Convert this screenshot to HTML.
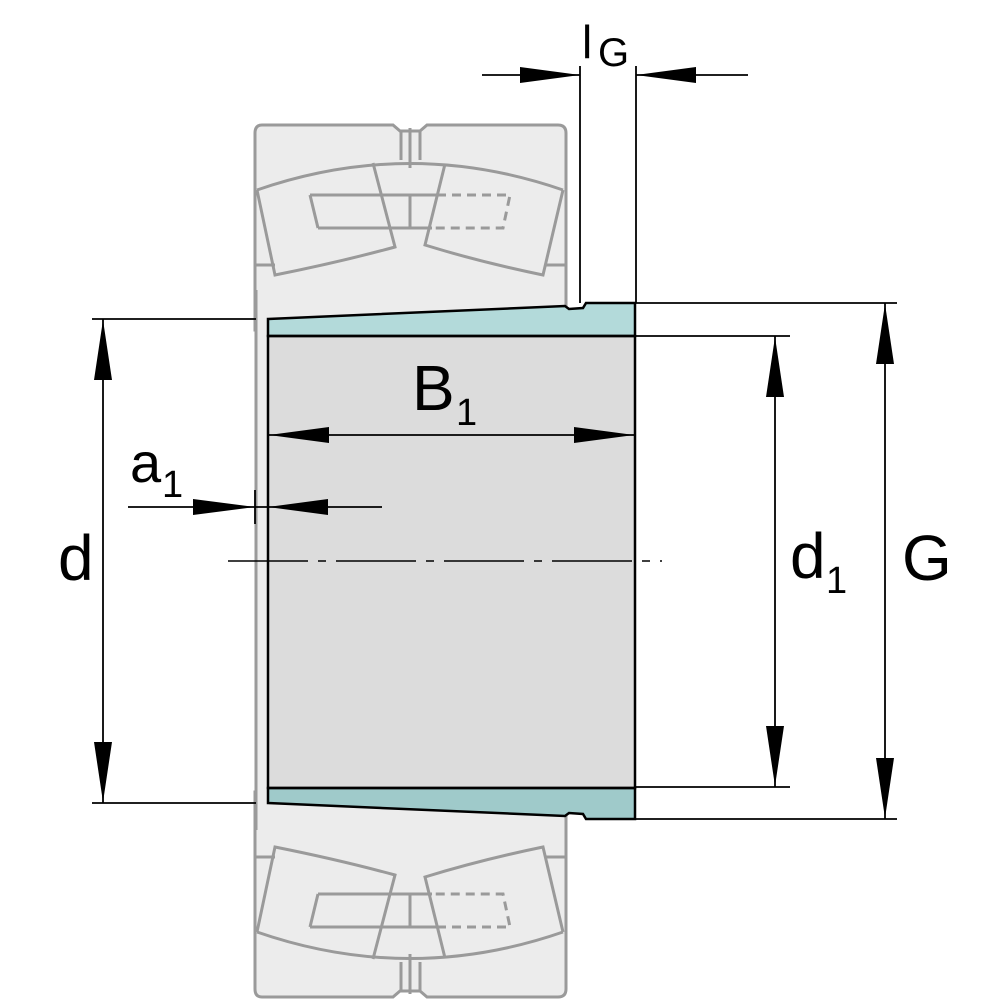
<!DOCTYPE html>
<html><head><meta charset="utf-8"><style>html,body{margin:0;padding:0;background:#fff}svg{display:block}</style></head>
<body>
<svg width="1000" height="1000" viewBox="0 0 1000 1000" xmlns="http://www.w3.org/2000/svg" font-family="Liberation Sans, DejaVu Sans, sans-serif">
<defs>
<g id="brg" fill="none" stroke="#9a9a9a" stroke-width="3">
  <path d="M262,125 L393,125 L400,131 L420,131 L427,125 L558,125 Q566,125 566,133 L566,330 L255,330 L255,133 Q255,125 262,125 Z" fill="#ececec"/>
  <line x1="401" y1="131" x2="401" y2="160"/><line x1="420" y1="131" x2="420" y2="160"/><line x1="410" y1="128" x2="410" y2="168"/>
  <path d="M257,190 Q410,137 563,190"/>
  <path d="M257,190 L275,275 Q340,262 395,247 L373,163"/>
  <path d="M563,190 L543,275 Q480,262 425,245 L445,164"/>
  <path d="M310,195 L437,195 M318,228 L432,228 M310,195 L318,228 M410,195 L410,228"/>
  <path d="M437,195 L510,195 L503,228 L432,228" stroke-dasharray="9,6"/>
  <line x1="255" y1="265" x2="275" y2="265"/><line x1="545" y1="265" x2="566" y2="265"/>
</g>
</defs>
<use href="#brg"/>
<use href="#brg" transform="translate(0,1122) scale(1,-1)"/>
<rect x="257" y="300" width="11" height="522" fill="#ececec"/>
<line x1="256" y1="290" x2="256" y2="830" stroke="#9a9a9a" stroke-width="3"/>
<rect x="268" y="336" width="367" height="452" fill="#dcdcdc"/>
<path d="M268,319 L565,306 L569,309 L583,308 L586,303 L635,303 L635,336 L268,336 Z" fill="#b3dada" stroke="#000" stroke-width="2.5"/>
<path d="M268,803 L565,816 L569,813 L583,814 L586,819 L635,819 L635,788 L268,788 Z" fill="#9fcaca" stroke="#000" stroke-width="2.5"/>
<rect x="268" y="336" width="367" height="452" fill="none" stroke="#000" stroke-width="2.5"/>
<line x1="228" y1="561" x2="662" y2="561" stroke="#000" stroke-width="1.5" stroke-dasharray="80,10,8,10"/>
<g stroke="#000" stroke-width="1.8" fill="none">
  <line x1="580" y1="66" x2="580" y2="303"/><line x1="636" y1="66" x2="636" y2="303"/>
  <line x1="482" y1="75" x2="580" y2="75"/><line x1="636" y1="75" x2="748" y2="75"/>
  <line x1="92" y1="319" x2="256" y2="319"/><line x1="92" y1="803" x2="256" y2="803"/>
  <line x1="103" y1="319" x2="103" y2="803"/>
  <line x1="635" y1="336" x2="790" y2="336"/><line x1="635" y1="787" x2="790" y2="787"/>
  <line x1="775" y1="336" x2="775" y2="787"/>
  <line x1="636" y1="303" x2="897" y2="303"/><line x1="636" y1="819" x2="897" y2="819"/>
  <line x1="885" y1="303" x2="885" y2="819"/>
  <line x1="268" y1="435" x2="635" y2="435"/>
  <line x1="128" y1="507" x2="382" y2="507"/>
  <line x1="255" y1="490" x2="255" y2="524"/>
</g>
<g fill="#000">
  <polygon points="580,75 520,67 520,83"/>
  <polygon points="636,75 696,67 696,83"/>
  <polygon points="103,320 94,380 112,380"/>
  <polygon points="103,802 94,742 112,742"/>
  <polygon points="775,337 766,397 784,397"/>
  <polygon points="775,786 766,726 784,726"/>
  <polygon points="885,304 876,364 894,364"/>
  <polygon points="885,818 876,758 894,758"/>
  <polygon points="269,435 329,427 329,443"/>
  <polygon points="634,435 574,427 574,443"/>
  <polygon points="255,507 193,499 193,515"/>
  <polygon points="268,507 328,499 328,515"/>
</g>
<g fill="#000">
  <text x="582" y="58" font-size="46">l</text>
  <text x="598" y="66" font-size="40">G</text>
  <text x="412" y="410" font-size="64">B</text>
  <text x="456" y="425" font-size="38">1</text>
  <text x="130" y="482" font-size="56">a</text>
  <text x="162" y="497" font-size="38">1</text>
  <text x="58" y="580" font-size="64">d</text>
  <text x="790" y="578" font-size="64">d</text>
  <text x="826" y="593" font-size="38">1</text>
  <text x="902" y="580" font-size="64">G</text>
</g>
</svg>
</body></html>
